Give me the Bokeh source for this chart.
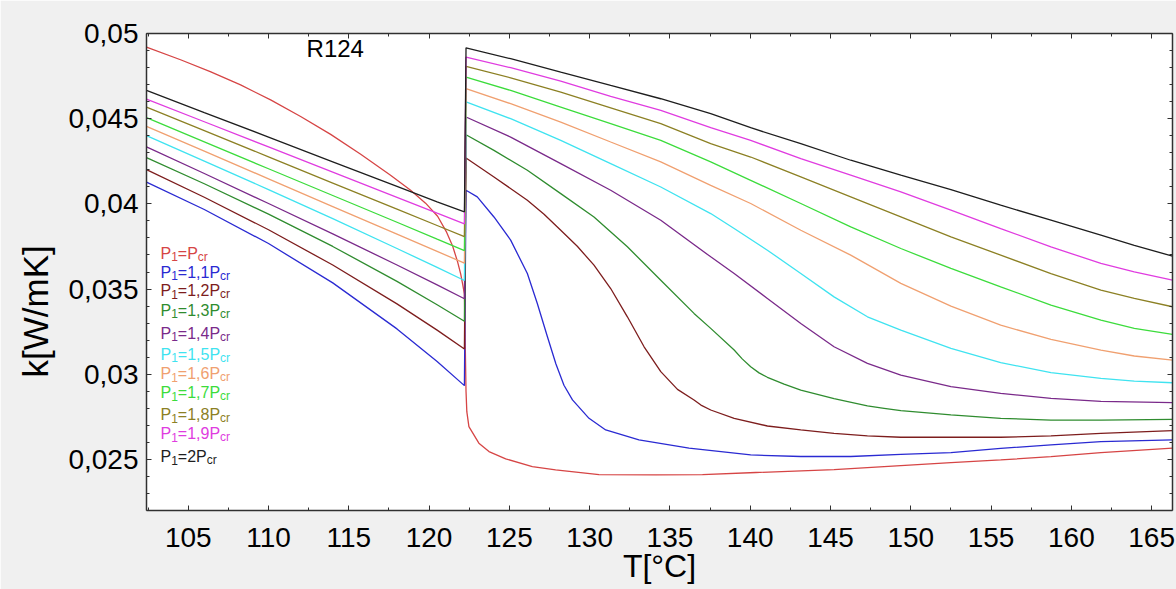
import math
from bokeh.plotting import figure
from bokeh.models import (Range1d, LinearAxis, FixedTicker, CustomJSTickFormatter,
                          Label, Title, ColumnDataSource)
from bokeh.core.properties import value
from bokeh.embed import file_html
from bokeh.resources import INLINE

FONT = "Liberation Sans"

# ---------------- data ----------------
# liquid-side branch, shared temperature grid
T_left = [102.4, 106.0, 110.0, 114.0, 118.0, 120.5, 122.2]
# gas-side branch, shared temperature grid (smooth curves)
T_right = [122.3, 125.08, 128.2, 131.31, 134.43, 137.54, 140.03, 143.15, 146.26,
           149.38, 152.5, 155.6, 158.73, 161.84, 163.92, 166.3]

# P1 = Pcr (red)
T_red_left = [102.4, 104.52, 106.37, 108.26, 110.13, 112.0, 113.87, 115.74, 117.6, 118.85,
              119.78, 120.53, 121.09, 121.47, 121.78, 121.97, 122.09, 122.2]
k_red_left = [0.0492, 0.04846, 0.04776, 0.04698, 0.0461, 0.04513, 0.04408, 0.04291, 0.04168,
              0.0408, 0.04004, 0.03927, 0.03834, 0.03751, 0.03658, 0.03587, 0.03529, 0.0347]
T_red_right = [122.3, 122.35, 122.48, 123.1, 123.73, 124.77, 126.43, 127.88, 130.58, 134.12,
               137.03, 140.35, 145.22, 149.38, 152.5, 155.6, 158.73, 161.84, 166.3]
k_red_right = [0.0290, 0.0278, 0.02692, 0.02595, 0.02546, 0.02503, 0.02458, 0.02438, 0.02411,
               0.02409, 0.02411, 0.02423, 0.0244, 0.02464, 0.02481, 0.02497, 0.02516, 0.0254, 0.02566]

# P1 = 1,1 Pcr (blue)
k_blue_left = [0.04128, 0.03967, 0.03767, 0.03536, 0.03266, 0.03074, 0.02933]
T_blue_right = [122.3, 123.0, 124.04, 125.08, 126.12, 126.74, 127.37, 127.9, 128.4, 128.93,
                129.96, 131.0, 133.07, 136.19, 140.03, 143.15, 146.26, 149.38, 152.5, 155.6,
                158.73, 161.84, 166.3]
k_blue_right = [0.0408, 0.04041, 0.03923, 0.03787, 0.03591, 0.03415, 0.0322, 0.0306, 0.02935,
                0.02849, 0.02741, 0.02673, 0.02614, 0.02566, 0.02526, 0.02517, 0.02517, 0.0253,
                0.0254, 0.02565, 0.02585, 0.02604, 0.02614]

# P1 = 1,2 Pcr (brown)
k_brown_left = [0.04201, 0.04039, 0.03848, 0.03641, 0.03413, 0.03259, 0.03148]
T_brown_right = [122.3, 124.04, 126.12, 127.16, 128.2, 129.23, 130.27, 131.31, 132.35, 133.39,
                 134.43, 135.47, 136.5, 136.93, 137.54, 139.0, 141.07, 143.15, 145.22, 147.3,
                 149.38, 152.5, 155.6, 158.73, 161.84, 166.3]
k_brown_right = [0.04269, 0.04158, 0.04021, 0.03939, 0.03845, 0.03751, 0.0364, 0.03503, 0.03337,
                 0.03161, 0.03015, 0.02911, 0.02849, 0.02819, 0.0279, 0.02741, 0.02696, 0.02673,
                 0.02653, 0.02638, 0.0263, 0.0263, 0.0263, 0.02638, 0.02653, 0.02669]

# P1 = 1,3 Pcr (dark green)
k_dgreen_left = [0.04271, 0.04118, 0.0394, 0.0375, 0.03545, 0.03408, 0.03311]
T_dgreen_right = [122.3, 124.04, 126.12, 128.2, 130.27, 132.35, 134.43, 136.5, 137.54, 139.0,
                  139.5, 140.03, 140.55, 141.07, 142.11, 143.15, 145.22, 147.3, 148.34, 149.38,
                  152.5, 155.6, 158.73, 161.84, 166.3]
k_dgreen_right = [0.04406, 0.04314, 0.04197, 0.0406, 0.03923, 0.03748, 0.03552, 0.03357, 0.03269,
                  0.03142, 0.0309, 0.03044, 0.03008, 0.02982, 0.02942, 0.02907, 0.02857, 0.02814,
                  0.028, 0.02786, 0.02761, 0.02741, 0.02731, 0.02731, 0.02735]

# P1 = 1,4 Pcr (purple)
k_purple_left = [0.04334, 0.04178, 0.04002, 0.03824, 0.03641, 0.03524, 0.03443]
T_purple_right = [122.3, 125.08, 128.2, 131.31, 134.43, 137.54, 139.0, 141.07, 143.15, 145.22,
                  147.3, 149.38, 152.5, 155.6, 158.73, 161.84, 166.3]
k_purple_right = [0.0451, 0.04392, 0.04236, 0.0408, 0.03904, 0.03689, 0.03591, 0.03445, 0.03298,
                  0.03161, 0.03064, 0.02995, 0.02927, 0.02888, 0.02858, 0.02841, 0.02833]

# P1 = 1,5 Pcr (cyan)
k_cyan_left = [0.044, 0.04251, 0.04084, 0.03913, 0.03738, 0.03627, 0.0355]
T_cyan_right = [122.3, 125.08, 128.2, 131.31, 134.43, 137.54, 139.0, 141.07, 143.15, 145.22,
                147.3, 149.38, 152.5, 155.6, 158.73, 161.84, 163.92, 166.3]
k_cyan_right = [0.04598, 0.045, 0.04373, 0.04236, 0.04099, 0.03943, 0.03855, 0.03728, 0.03591,
                0.03454, 0.03337, 0.03259, 0.03152, 0.03068, 0.03009, 0.02976, 0.0296, 0.0295]

# P1 = 1,6 ... 2 Pcr (shared grids)
k_orange_left = [0.04455, 0.04309, 0.04147, 0.03984, 0.03822, 0.03721, 0.03652]
k_orange_right = [0.04676, 0.04588, 0.0448, 0.04363, 0.04246, 0.04109, 0.04002, 0.03845, 0.03699,
                  0.03533, 0.034, 0.03288, 0.03204, 0.03142, 0.03107, 0.03083]
k_green_left = [0.04506, 0.04364, 0.04206, 0.04049, 0.03892, 0.03793, 0.03726]
k_green_right = [0.04744, 0.04666, 0.04568, 0.04471, 0.04373, 0.04246, 0.04138, 0.04002, 0.03865,
                 0.03738, 0.03621, 0.03513, 0.03406, 0.03318, 0.03269, 0.03234]
k_olive_left = [0.04568, 0.0443, 0.04276, 0.04122, 0.03969, 0.03873, 0.03808]
k_olive_right = [0.04807, 0.0474, 0.04656, 0.04564, 0.04471, 0.04353, 0.04275, 0.04158, 0.04041,
                 0.03923, 0.03806, 0.03699, 0.03591, 0.03494, 0.03445, 0.03396]
k_magenta_left = [0.04615, 0.04482, 0.04334, 0.04186, 0.04038, 0.03945, 0.03883]
k_magenta_right = [0.04861, 0.04799, 0.04721, 0.04631, 0.04549, 0.04447, 0.04373, 0.04265,
                   0.04168, 0.0407, 0.03963, 0.03855, 0.03748, 0.0365, 0.03601, 0.03552]
k_black_left = [0.04666, 0.04536, 0.04392, 0.04247, 0.04103, 0.04012, 0.03953]
k_black_right = [0.04916, 0.04852, 0.04773, 0.04695, 0.04617, 0.04529, 0.04447, 0.04353, 0.04256,
                 0.04168, 0.04084, 0.03992, 0.03904, 0.03816, 0.03757, 0.03693]

legend_rest = ["=P", "=1,1P", "=1,2P", "=1,3P", "=1,4P", "=1,5P", "=1,6P", "=1,7P",
               "=1,8P", "=1,9P", "=2P"]
colors = ["#d64545", "#2a2ad2", "#7d1d1d", "#2f8c2f", "#7a2a8a", "#3fe3f0", "#f0a070",
          "#3cdc3c", "#8c8024", "#e03ce0", "#1e1e1e"]

series = [
    (T_red_left + T_red_right, k_red_left + k_red_right),
    (T_left + T_blue_right, k_blue_left + k_blue_right),
    (T_left + T_brown_right, k_brown_left + k_brown_right),
    (T_left + T_dgreen_right, k_dgreen_left + k_dgreen_right),
    (T_left + T_purple_right, k_purple_left + k_purple_right),
    (T_left + T_cyan_right, k_cyan_left + k_cyan_right),
    (T_left + T_right, k_orange_left + k_orange_right),
    (T_left + T_right, k_green_left + k_green_right),
    (T_left + T_right, k_olive_left + k_olive_right),
    (T_left + T_right, k_magenta_left + k_magenta_right),
    (T_left + T_right, k_black_left + k_black_right),
]

# ---------------- figure ----------------
AX = "#303030"
p = figure(width=1176, height=589, x_range=Range1d(102.4, 166.3), y_range=Range1d(0.022, 0.05),
           output_backend="svg", toolbar_location=None,
           min_border_left=146, min_border_right=4, min_border_top=33, min_border_bottom=79,
           background_fill_color="white", border_fill_color="#f0f0f0", outline_line_color=None)
p.xgrid.visible = False
p.ygrid.visible = False

xt = FixedTicker(ticks=list(range(105, 166, 5)), minor_ticks=[102.5 + 5 * i for i in range(13)])
yt = FixedTicker(ticks=[0.025, 0.03, 0.035, 0.04, 0.045, 0.05],
                 minor_ticks=[round(0.022 + 0.001 * i, 3) for i in range(29)])
yfmt = CustomJSTickFormatter(code="return tick.toFixed(3).replace(/0+$/, '').replace('.', ',');")
blank = CustomJSTickFormatter(code="return '';")


def style(ax):
    ax.major_tick_in = 5
    ax.major_tick_out = 0
    ax.minor_tick_in = 3
    ax.minor_tick_out = 0
    ax.axis_line_color = AX
    ax.axis_line_width = 1.5
    ax.major_tick_line_color = AX
    ax.minor_tick_line_color = AX
    ax.major_tick_line_width = 1
    ax.minor_tick_line_width = 1
    ax.major_label_text_font = FONT
    ax.major_label_text_font_size = "28px"
    ax.major_label_text_color = "black"


xa = p.xaxis[0]
xa.ticker = xt
style(xa)
xa.major_label_standoff = 17
xa.axis_label = "T[°C]"
xa.axis_label_text_font = FONT
xa.axis_label_text_font_size = "32px"
xa.axis_label_text_font_style = "normal"
xa.axis_label_text_color = "black"
xa.axis_label_standoff = -2

ya = p.yaxis[0]
ya.ticker = yt
ya.formatter = yfmt
style(ya)
ya.major_label_standoff = 8

top = LinearAxis(ticker=xt, formatter=blank, major_label_standoff=0)
style(top)
p.add_layout(top, "above")
right = LinearAxis(ticker=yt, formatter=blank, major_label_standoff=0)
style(right)
p.add_layout(right, "right")

p.add_layout(Title(text="k[W/mK]", align="left", offset=133, vertical_align="middle",
                   standoff=20, text_font=FONT, text_font_size="35px",
                   text_font_style="normal", text_color="black"), "left")

for (T, k), c in zip(series, colors):
    p.line(T, k, line_color=c, line_width=1.3)

# legend built from text pieces (P, subscript 1, rest, subscript cr)
W = {"P": 0.667, "=": 0.584, ",": 0.278, "c": 0.5, "r": 0.333}


def tw(s, size):
    return sum(W.get(ch, 0.556) for ch in s) * size


leg_x = 103.27
leg_y = [0.037427, 0.036313, 0.035229, 0.034086, 0.032737, 0.031506, 0.030363, 0.02925,
         0.02796, 0.026846, 0.025498]
src = dict(x=[], y=[], text=[], xo=[], yo=[], fs=[], color=[])
for rest, c, y in zip(legend_rest, colors, leg_y):
    pieces = [("P", 16, 0.0), ("1", 12, 3.5), (rest, 16, 0.0), ("cr", 12, 3.5)]
    xo = 0.0
    for s, fs, yo in pieces:
        src["x"].append(leg_x)
        src["y"].append(y)
        src["text"].append(s)
        src["xo"].append(xo)
        src["yo"].append(yo + 5.7)
        src["fs"].append(f"{fs}px")
        src["color"].append(c)
        xo += tw(s, fs)
p.text(x="x", y="y", text="text", x_offset="xo", y_offset="yo", text_font_size="fs",
       text_color="color", text_font=value(FONT), text_baseline="alphabetic",
       text_align="left", source=ColumnDataSource(src))

p.add_layout(Label(x=112.37, y=0.04912, text="R124", text_font=FONT, text_font_size="24px",
                   text_color="black", text_baseline="alphabetic"))

open("out.html", "w").write(file_html(p, INLINE))
